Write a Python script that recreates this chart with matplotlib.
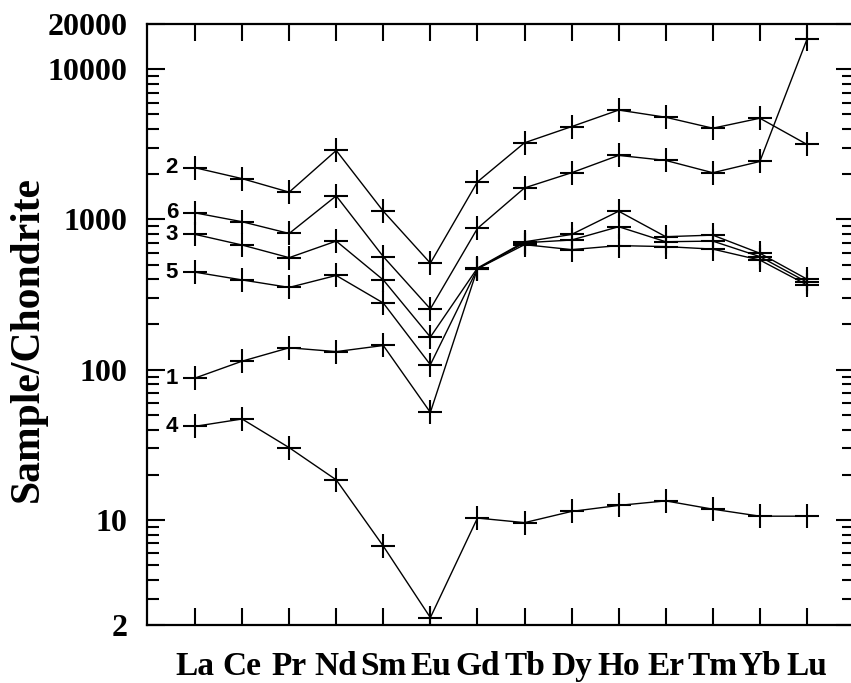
import matplotlib
matplotlib.use('Agg')
import matplotlib.pyplot as plt
from matplotlib.ticker import LogLocator, NullFormatter

# REE chondrite-normalised patterns
elements = ['La', 'Ce', 'Pr', 'Nd', 'Sm', 'Eu', 'Gd', 'Tb', 'Dy', 'Ho', 'Er', 'Tm', 'Yb', 'Lu']
s1 = [88, 114, 140, 132, 145, 52, 470, 680, 630, 670, 660, 635, 537, 367]
s2 = [2210, 1870, 1520, 2880, 1135, 512, 1780, 3240, 4150, 5350, 4790, 4050, 4720, 3160]
s3 = [796, 676, 557, 718, 396, 165, 475, 710, 795, 1135, 768, 787, 596, 401]
s4 = [42, 47, 30.3, 18.5, 6.7, 2.24, 10.3, 9.6, 11.4, 12.5, 13.4, 11.8, 10.6, 10.6]
s5 = [446, 396, 353, 424, 278, 108, 470, 700, 730, 895, 711, 718, 566, 383]
s6 = [1107, 966, 807, 1436, 566, 254, 872, 1622, 2047, 2670, 2472, 2047, 2432, 15800]
series = {'1': s1, '2': s2, '3': s3, '4': s4, '5': s5, '6': s6}

ytick_vals = [2, 10, 100, 1000, 10000, 20000]
ytick_labels = ['2', '10', '100', '1000', '10000', '20000']

serif = 'Liberation Serif'

fig = plt.figure(figsize=(8.51, 6.83), dpi=100)
ax = fig.add_axes([147 / 851, 58 / 683, 707 / 851, 601 / 683])

x = list(range(len(elements)))
for name, vals in series.items():
    ax.plot(x, vals, color='black', linewidth=1.0, marker='+',
            markersize=17, markeredgewidth=1.5)
    ax.text(-0.36, vals[0], name, ha='right', va='center',
            fontsize=16, fontweight='bold', family='Liberation Sans')

ax.set_yscale('log')
ax.set_ylim(2, 20000)
ax.set_xlim(-1.02, 14)

ax.set_xticks(x)
ax.set_xticklabels(elements, fontsize=24, fontweight='bold', family=serif)
ax.set_yticks(ytick_vals)
ax.set_yticklabels(ytick_labels, fontsize=23, fontweight='bold', family=serif)
ax.yaxis.set_minor_locator(LogLocator(base=10, subs=range(2, 10), numticks=20))
ax.yaxis.set_minor_formatter(NullFormatter())

ax.tick_params(axis='x', which='major', direction='in', top=True, bottom=True,
               length=12, width=1.5, pad=19)
ax.tick_params(axis='y', which='major', direction='in', left=True, right=True,
               length=13, width=1.5, pad=14)
ax.tick_params(axis='y', which='minor', direction='in', left=True, right=True,
               length=8.5, width=1.5)

for sp in ax.spines.values():
    sp.set_linewidth(1.6)

fig.text(28 / 851, 1 - 339 / 683, 'Sample/Chondrite', rotation=90,
         ha='center', va='center', fontsize=30, fontweight='bold', family=serif)

fig.savefig('out.png', dpi=100)
